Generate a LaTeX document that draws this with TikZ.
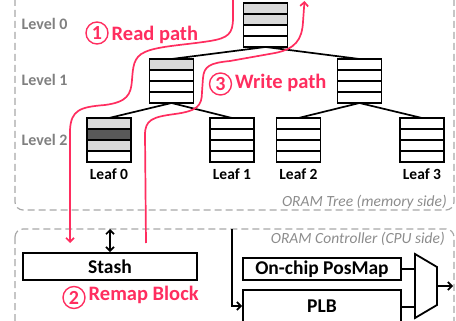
\documentclass[tikz,border=0pt]{standalone}
\usepackage{fontspec}
\setmainfont{Carlito}
\usetikzlibrary{arrows.meta,calc}
\definecolor{pathpink}{RGB}{255,45,95}
\definecolor{lgray}{RGB}{217,217,217}
\definecolor{dgray}{RGB}{89,89,89}
\definecolor{boxgray}{RGB}{168,168,168}
\definecolor{lvlgray}{RGB}{128,128,128}
\definecolor{capgray}{RGB}{140,140,140}
\tikzset{
  bucket/.style n args={4}{draw, line width=1.9pt, minimum width=44pt, minimum height=44pt,
    inner sep=0pt, outer sep=0pt,
    path picture={
      \fill[#1] ([shift={(-22,-22)}]path picture bounding box.center) rectangle ([shift={(22,-11)}]path picture bounding box.center);
      \fill[#2] ([shift={(-22,-11)}]path picture bounding box.center) rectangle ([shift={(22,0)}]path picture bounding box.center);
      \fill[#3] ([shift={(-22,0)}]path picture bounding box.center) rectangle ([shift={(22,11)}]path picture bounding box.center);
      \fill[#4] ([shift={(-22,11)}]path picture bounding box.center) rectangle ([shift={(22,22)}]path picture bounding box.center);
      \foreach \k in {-11,0,11}
        \draw[line width=1.9pt] ([shift={(-22,\k)}]path picture bounding box.center) -- ([shift={(22,\k)}]path picture bounding box.center);
    }},
  treeedge/.style={line width=1.7pt},
  lvl/.style={font=\bfseries\fontsize{16}{18}\selectfont, text=lvlgray, anchor=base west, inner sep=0pt},
  leaflbl/.style={font=\bfseries\fontsize{15.5}{18}\selectfont, anchor=base, inner sep=0pt},
  blk/.style={draw, line width=1.8pt, inner sep=0pt, font=\bfseries\fontsize{19.5}{22}\selectfont},
  region/.style={draw=boxgray, line width=1.2pt, dash pattern=on 7pt off 4pt, rounded corners=8pt},
  regioncap/.style={font=\itshape\fontsize{15.5}{18}\selectfont, text=capgray, inner sep=0pt, anchor=base east},
  rw/.style={draw=pathpink, line width=1.7pt},
  stepmark/.style={circle, draw=pathpink, line width=1.4pt, text=pathpink, minimum size=22pt,
    inner sep=0pt, font=\bfseries\fontsize{20}{22}\selectfont},
  steptext/.style={text=pathpink, font=\bfseries\fontsize{20.5}{24}\selectfont, anchor=base west, inner sep=0pt},
  wire/.style={line width=1.7pt},
  arrowtip/.style={-{Straight Barb[length=4pt,width=8pt]}},
}
\begin{document}
\begin{tikzpicture}[x=1pt,y=-1pt]
\useasboundingbox (0,0) rectangle (456,321);
\clip (0,0) rectangle (456,321);

% memory side and CPU side regions
\draw[region] (15,-20) rectangle (454,210);
\draw[region] (15,229) rectangle (454,345);
\node[regioncap] (memcap) at (447,207) {ORAM Tree (memory side)};
\node[regioncap] (cpucap) at (445,243.5) {ORAM Controller (CPU side)};

% level labels
\node[lvl] (lv0) at (21.5,30) {Level 0};
\node[lvl] (lv1) at (21.5,86) {Level 1};
\node[lvl] (lv2) at (21.5,145.5) {Level 2};

% ORAM tree buckets
\node[bucket={lgray}{lgray}{white}{white}] (root) at (265.5,25) {};
\node[bucket={lgray}{white}{white}{white}] (na) at (171.5,81) {};
\node[bucket={white}{white}{white}{white}] (nb) at (359.5,81) {};
\node[bucket={lgray}{dgray}{lgray}{white}] (leaf0) at (109,140) {};
\node[bucket={white}{white}{white}{white}] (leaf1) at (232,140) {};
\node[bucket={white}{white}{white}{white}] (leaf2) at (298.5,140) {};
\node[bucket={white}{white}{white}{white}] (leaf3) at (422,140) {};

\draw[treeedge] (root.south) -- (na.north);
\draw[treeedge] (root.south) -- (nb.north);
\draw[treeedge] (na.south) -- (leaf0.north);
\draw[treeedge] (na.south) -- (leaf1.north);
\draw[treeedge] (nb.south) -- (leaf2.north);
\draw[treeedge] (nb.south) -- (leaf3.north);

\node[leaflbl] (lb0) at (109,179) {Leaf 0};
\node[leaflbl] (lb1) at (232,179) {Leaf 1};
\node[leaflbl] (lb2) at (298.5,179) {Leaf 2};
\node[leaflbl] (lb3) at (422,179) {Leaf 3};

% stash
\node[blk, minimum width=174pt, minimum height=27pt] (stash) at (110,266.5) {Stash};
\coordinate (stashport) at (110,229);
\draw[wire, {Straight Barb[length=4pt,width=8pt]}-{Straight Barb[length=4pt,width=8pt]}] (stashport) -- (stash.north);

% read path
\coordinate (rdstart) at (233,-5);
\coordinate (rdend) at (70,243);
\draw[rw, arrowtip] (rdstart) -- (233,18) .. controls (233,34) and (228,38) .. (210,41)
  .. controls (185,45) and (158,46) .. (145,52) .. controls (133,57) and (133,68) .. (132,80)
  .. controls (131,95) and (127,102) .. (105,105) .. controls (80,107) and (71,110) .. (70,130)
  -- (rdend);
\node[stepmark] (t1) at (97,33) {1};
\node[steptext] (rdlbl) at (111.5,41) {Read path};

% write path
\coordinate (wrstart) at (146,243);
\coordinate (wrend) at (304.5,1);
\draw[rw, arrowtip] (wrstart) -- (145,135) .. controls (145,120) and (152,117) .. (175,114)
  .. controls (197,111) and (202,106) .. (202,92) -- (203,78)
  .. controls (204,66) and (210,63) .. (230,61) -- (275,53)
  .. controls (295,49) and (302,40) .. (303,22) -- (wrend);
\node[stepmark] (t3) at (220.5,84) {3};
\node[steptext] (wrlbl) at (235,89) {Write path};

% remap
\node[stepmark] (t2) at (74,297.5) {2};
\node[steptext] (rmlbl) at (88.5,300.5) {Remap Block};

% controller: position map, PLB and multiplexer
\node[blk, minimum width=158pt, minimum height=22pt] (posmap) at (322,269) {On-chip PosMap};
\node[blk, minimum width=158pt, minimum height=32pt] (plb) at (322,306) {PLB};
\coordinate (ctop) at (232,229);
\draw[wire, arrowtip] (ctop) |- (plb.west);

\coordinate (muxin) at (415,286);
\coordinate (muxout) at (437,286);
\coordinate (result) at (453,286);
\draw[line width=1.8pt, line join=miter] (415,254) -- (437,267) -- (437,305) -- (415,318) -- cycle;
\draw[wire] (posmap.east) -- (posmap.east -| muxin);
\draw[wire] ([yshift=-1pt]plb.east) -- ([yshift=-1pt]plb.east -| muxin);
\draw[wire, arrowtip] (muxout) -- (result);
\end{tikzpicture}
\end{document}
